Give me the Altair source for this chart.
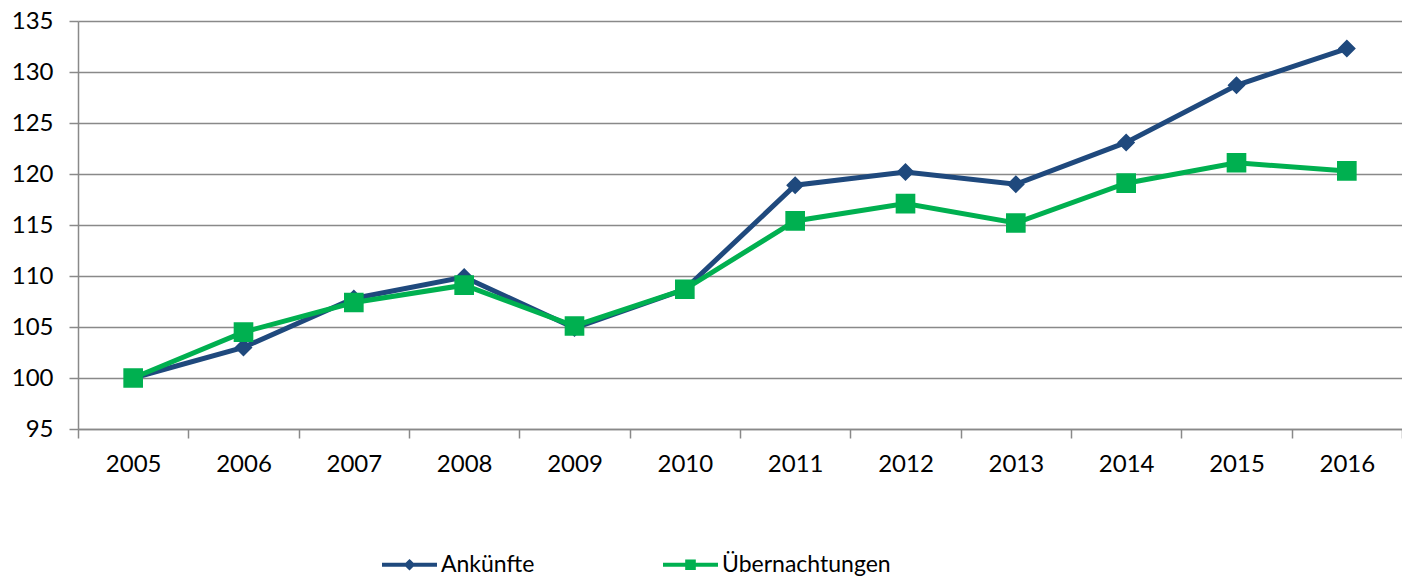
import altair as alt
import pandas as pd

years = [str(y) for y in range(2005, 2017)]
ankuenfte = [100.0, 103.0, 107.8, 109.9, 104.9, 108.7, 118.9, 120.2, 119.0, 123.1, 128.7, 132.3]
uebernachtungen = [100.0, 104.5, 107.4, 109.1, 105.1, 108.7, 115.4, 117.1, 115.2, 119.1, 121.1, 120.3]
series = ["Ankünfte", "Übernachtungen"]
colors = ["#1F497D", "#00B050"]
y_ticks = [95, 100, 105, 110, 115, 120, 125, 130, 135]

# symbol paths: a horizontal stroke (only stroked in the legend) plus the marker
diamond = "M-1,0L1,0M0,-0.11L0.11,0L0,0.11L-0.11,0Z"
square = "M-1,0L1,0M-0.12,-0.12L0.12,-0.12L0.12,0.12L-0.12,0.12Z"

rows = []
for i, yr in enumerate(years):
    rows.append({"Jahr": yr, "Reihe": series[0], "Wert": ankuenfte[i]})
    rows.append({"Jahr": yr, "Reihe": series[1], "Wert": uebernachtungen[i]})
df = pd.DataFrame(rows)

FONT = "Lato"
GRAY = "#898989"

x = alt.X(
    "Jahr:O",
    scale=alt.Scale(type="band", paddingInner=0, paddingOuter=0),
    axis=alt.Axis(
        title=None, labelAngle=0, tickBand="extent", grid=False,
        tickSize=9, labelPadding=14, domainColor=GRAY, tickColor=GRAY,
        domainWidth=1.5, tickWidth=1.5,
    ),
)
y = alt.Y(
    "Wert:Q",
    scale=alt.Scale(domain=[95, 135], nice=False, zero=False),
    axis=alt.Axis(
        title=None, values=y_ticks, grid=True, gridColor=GRAY, gridWidth=1.5,
        tickSize=9, labelPadding=16, domainColor=GRAY, tickColor=GRAY,
        domainWidth=1.5, tickWidth=1.5,
    ),
)
legend = alt.Legend(
    title=None, orient="none", direction="horizontal", legendX=302, legendY=514,
    symbolSize=3025, symbolStrokeWidth=4, labelOffset=2, columnPadding=120,
    labelFont=FONT, labelFontSize=23, labelColor="#000000", padding=0, labelLimit=400,
)
cscale = alt.Scale(domain=series, range=colors)
stroke = alt.Stroke("Reihe:N", scale=cscale, legend=legend)
fill = alt.Fill("Reihe:N", scale=cscale, legend=legend)
shape = alt.Shape("Reihe:N", scale=alt.Scale(domain=series, range=[diamond, square]), legend=legend)

lines = alt.Chart(df).mark_line(strokeWidth=5).encode(x=x, y=y, stroke=stroke)
points = alt.Chart(df).mark_point(filled=True, opacity=1, size=26800).encode(
    x=x, y=y, fill=fill, shape=shape
)

chart = (
    alt.layer(lines, points)
    .properties(
        width=1324, height=408,
        autosize=alt.AutoSizeParams(type="none"),
        padding={"left": 70, "top": 13, "right": 0, "bottom": 149},
    )
    .configure_view(stroke=None)
    .configure_axis(labelFont=FONT, labelFontSize=24, labelColor="#000000")
)

chart.save("out.html", embed_options={"renderer": "svg", "actions": False})
